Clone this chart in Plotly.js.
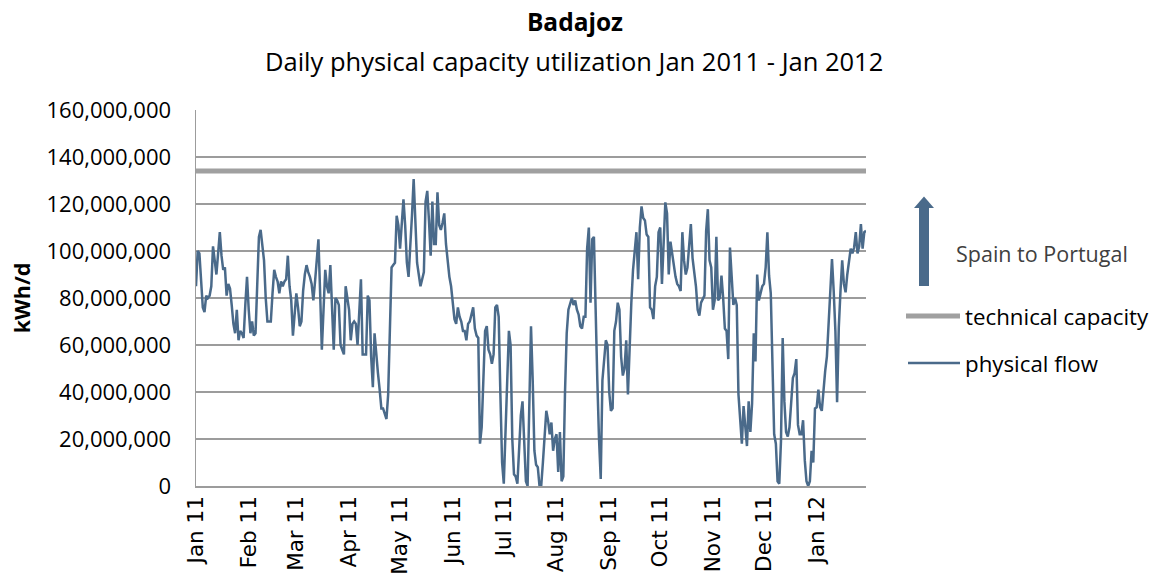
<!DOCTYPE html>
<html><head><meta charset="utf-8">
<script src="https://cdn.plot.ly/plotly-3.0.1.min.js"></script>
<style>html,body{margin:0;padding:0;background:#fff}#chart{width:1152px;height:578px}</style>
</head><body><div id="chart"></div>
<script>
// ---- data ----
const startDate = [2011, 0, 1];           // first day of the series
const flowMillionKWhPerDay = [
  85,100,99,88,76,74,81,80,81,85,
  102,96,90,99,108,98,92,93,81,86,
  84,77,69,65,75,62,66,65,63,77,
  89,75,65,70,64,65,88,106,109,102,
  96,80,70,70,70,82,92,89,87,82,
  87,85,87,88,98,85,79,64,72,82,
  76,68,70,83,90,94,91,89,86,79,
  87,95,105,82,58,75,92,85,82,94,
  73,58,80,79,77,60,58,56,85,80,
  75,62,69,70,69,60,75,88,56,56,
  56,81,79,55,42,65,55,48,41,33,
  33,31,28.5,39,70,93,94,95,115,111,
  101,110,122,111,95,89,100,115,130.6,110,
  95,90,85,88,91,121,125.6,113,98,121,
  103,103,125,111,109,112,116,103,95,89,
  85,79,71,69,76,72,70,66,66,62,
  69,70,73,76,67,64,63,18,25,45,
  66,68,58,56,52,56,76,77,72,39,
  10,1,22,50,66,60,20,5,4,1,
  19,30,36,20,2,0,32,68,45,15,
  9,8,0,0,10,22,32,28,22,27,
  15,20,22,6,23,2,4,40,65,75,
  78,80,77,79,75,73,68,67,72,72,
  101,110,78,105,106,70,45,20,3,45,
  55,62,60,40,32,33,66,70,78,75,
  55,47,50,62,39,60,78,92,102,108,
  88,110,119,114,113,107,106,76,75,71,
  85,89,108,110,86,103,120.7,116,90,104,
  99,92,89,86,85,83,108,96,90,93,
  104,111.5,97,92,85,75,72.5,78,79.5,81,
  108.6,117.8,96,93,75,79,106,79,80,89.5,
  80,67,66,54,101.5,86,77,80,77,39,
  28,18,34,25,17,36,23,35,65,53,
  90,79,82,85,86,93,108,89.5,82,56,
  22,18,2,1,19,63,36,23,21,25,
  35,46,48,54,26,22,22,28,11,2,
  0,2,15,10,33,33.5,41,33.5,32,42,
  49,55,67.5,84.5,96.6,83,66,35.6,67.5,83,
  96,86,82.4,90,96,101,99,101.5,108,99,
  102,111.5,101,108,108.6
];
const technicalCapacityKWh = 134000000;
const seriesNames = ['technical capacity', 'physical flow'];
const directionLabel = 'Spain to Portugal';
const chartTitle = 'Badajoz';
const chartSubtitle = 'Daily physical capacity utilization Jan 2011 - Jan 2012';
const yAxisLabel = 'kWh/d';
const tickLabelFormat = '%b %y';

// ---- derived ----
function isoDay(i) {
  const d = new Date(Date.UTC(startDate[0], startDate[1], startDate[2] + i));
  return d.toISOString().slice(0, 10);
}
const dates = flowMillionKWhPerDay.map((_, i) => isoDay(i));
const flow = flowMillionKWhPerDay.map(v => v * 1e6);
const firstDay = dates[0], lastDay = dates[dates.length - 1];

// ---- style ----
const FLOW_COLOR = '#4A6A8A';
const CAP_COLOR = '#A0A0A0';
const GRID = '#9c9c9c';
const FONT = 'Open Sans, Noto Sans, sans-serif';
const W = 1152, H = 578;
const M = {l: 196, r: 286, t: 110, b: 92};
const PW = W - M.l - M.r, PH = H - M.t - M.b;
const px = X => (X - M.l) / PW;
const py = Y => (H - M.b - Y) / PH;

const traces = [
  {x: [firstDay, lastDay], y: [technicalCapacityKWh, technicalCapacityKWh], name: seriesNames[0],
   mode: 'lines', line: {color: CAP_COLOR, width: 5}, hoverinfo: 'skip'},
  {x: dates, y: flow, name: seriesNames[1], mode: 'lines',
   line: {color: FLOW_COLOR, width: 2.5}}
];

const headPath = 'M' + px(914) + ',' + py(208) + ' L' + px(924) + ',' + py(196.5) +
                 ' L' + px(934) + ',' + py(208) + ' Z';

const layout = {
  width: W, height: H, margin: M, showlegend: false,
  paper_bgcolor: '#fff', plot_bgcolor: '#fff',
  font: {family: FONT, color: '#000'},
  title: {text: '<b>' + chartTitle + '</b>', font: {family: FONT, size: 24.5, color: '#000'},
          xref: 'container', x: 575 / W, xanchor: 'center',
          yref: 'container', y: 1 - 22 / H, yanchor: 'middle'},
  xaxis: {type: 'date', range: [firstDay, '2012-01-30'], tickmode: 'linear',
          tick0: firstDay, dtick: 'M1', tickformat: tickLabelFormat, tickangle: -90,
          tickfont: {family: 'DejaVu Sans', size: 21.5, color: '#000'},
          showgrid: false, showline: true, linecolor: GRID, linewidth: 1.5,
          ticks: '', zeroline: false, fixedrange: true},
  yaxis: {range: [0, 160e6], dtick: 20e6, tick0: 0, tickformat: ',d',
          tickfont: {family: FONT, size: 22, color: '#000'},
          showgrid: true, gridcolor: GRID, gridwidth: 1.5,
          showline: true, linecolor: GRID, linewidth: 1.5, zeroline: false,
          ticks: '', ticklabelstandoff: 19,
          title: {text: '<b>' + yAxisLabel + '</b>', font: {family: FONT, size: 21.5, color: '#000'}, standoff: 10}},
  annotations: [
    {text: chartSubtitle, xref: 'paper', yref: 'paper', x: px(574), y: py(61),
     xanchor: 'center', yanchor: 'middle', showarrow: false, font: {family: FONT, size: 25.5, color: '#000'}},
    {text: directionLabel, xref: 'paper', yref: 'paper', x: px(954), y: py(253),
     xanchor: 'left', yanchor: 'middle', showarrow: false, font: {family: FONT, size: 21.5, color: '#404040'}},
    {text: seriesNames[0], xref: 'paper', yref: 'paper', x: px(963), y: py(316),
     xanchor: 'left', yanchor: 'middle', showarrow: false, font: {family: FONT, size: 22.3, color: '#000'}},
    {text: seriesNames[1], xref: 'paper', yref: 'paper', x: px(963), y: py(363),
     xanchor: 'left', yanchor: 'middle', showarrow: false, font: {family: FONT, size: 22.3, color: '#000'}}
  ],
  shapes: [
    {type: 'rect', xref: 'paper', yref: 'paper', x0: px(919), x1: px(929), y0: py(286), y1: py(207),
     fillcolor: FLOW_COLOR, line: {width: 0}},
    {type: 'path', xref: 'paper', yref: 'paper', path: headPath, fillcolor: FLOW_COLOR, line: {width: 0}},
    {type: 'line', xref: 'paper', yref: 'paper', x0: px(906), x1: px(960), y0: py(316), y1: py(316),
     line: {color: CAP_COLOR, width: 5}},
    {type: 'line', xref: 'paper', yref: 'paper', x0: px(908), x1: px(960), y0: py(363), y1: py(363),
     line: {color: FLOW_COLOR, width: 2.5}}
  ]
};

Plotly.newPlot('chart', traces, layout, {displayModeBar: false, staticPlot: true});
</script>
</body></html>
